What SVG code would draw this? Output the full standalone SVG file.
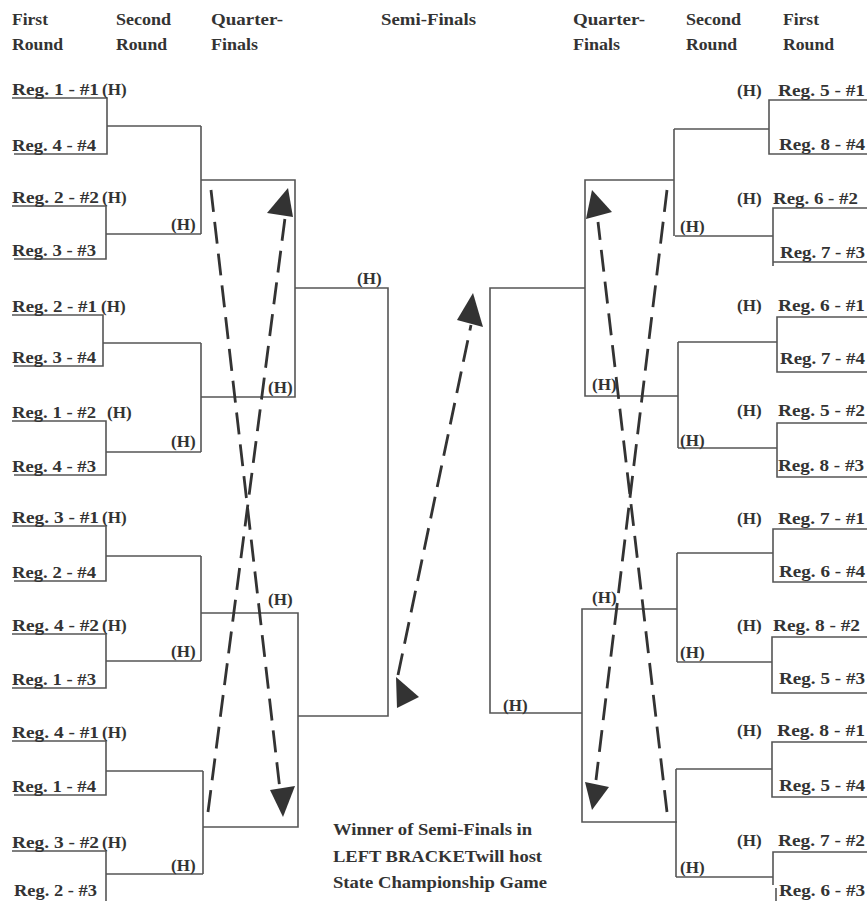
<svg xmlns="http://www.w3.org/2000/svg" width="867" height="901" viewBox="0 0 867 901">
<style>
.ln{fill:none;stroke:#555;stroke-width:1.6}
.ds{fill:none;stroke:#333;stroke-width:2.8;stroke-dasharray:22 10}
.ah{fill:#333}
text{font-family:"Liberation Serif","Times New Roman",serif;font-weight:bold;fill:#333}
.hd{font-size:17px}
.lb{font-size:17px}
.nt{font-size:17px}
</style>
<rect width="867" height="901" fill="#fff"/>
<g id="connectors">
<path class="ln" d="M12 98H107V154H14M107 126H201M12 206H106V259H14M106 234H201M201 126V234M201 180H295V397H201M12 315H103V366H14M103 343H201M12 421H106V475H14M106 452H201M201 343V452M295 288H388V716H298M12 526H106V581H14M106 556H201M12 634H106V688H12M106 661H201M201 556V661M201 613H298V827H203M12 741H106V795H14M106 771H203M12 851H106V901M106 874H203M203 771V874"/>
<path class="ln" d="M867 100H769V154H867M769 129H674M867 208H773V266M773 262H867M773 236H675M674 129V236M674 180H585V396H678M867 317H777V372H867M777 342H678M867 423H777V477H867M777 448H678M678 342V448M585 288H490V713H582M867 529H773V582H867M773 553H677M867 637H772V693H867M772 662H677M677 553V662M677 609H582V822H677M867 742H772V797H867M772 769H676M867 852H773V885M676 877H773M676 769V877M776 888V901"/>
<path class="ds" d="M211 190L280 790"/>
<path class="ds" d="M208 812L285 218"/>
<polygon class="ah" points="288,188 267,213 293,217"/>
<polygon class="ah" points="283,817 270,790 295,786"/>
<path class="ds" d="M667 190L596 780"/>
<path class="ds" d="M667 812L598 222"/>
<polygon class="ah" points="592,190 586,219 612,212"/>
<polygon class="ah" points="592,810 585,782 609,787"/>
<path class="ds" d="M398 675L471 325"/>
<polygon class="ah" points="473,293 457,320 483,327"/>
<polygon class="ah" points="396,677 419,697 397,708"/>
</g>
<g id="headers">
<text class="hd" x="12" y="25" textLength="36" lengthAdjust="spacingAndGlyphs">First</text>
<text class="hd" x="12" y="50" textLength="51" lengthAdjust="spacingAndGlyphs">Round</text>
<text class="hd" x="116" y="25" textLength="55" lengthAdjust="spacingAndGlyphs">Second</text>
<text class="hd" x="116" y="50" textLength="51" lengthAdjust="spacingAndGlyphs">Round</text>
<text class="hd" x="211" y="25" textLength="72" lengthAdjust="spacingAndGlyphs">Quarter-</text>
<text class="hd" x="211" y="50" textLength="47" lengthAdjust="spacingAndGlyphs">Finals</text>
<text class="hd" x="381" y="25" textLength="95" lengthAdjust="spacingAndGlyphs">Semi-Finals</text>
<text class="hd" x="573" y="25" textLength="72" lengthAdjust="spacingAndGlyphs">Quarter-</text>
<text class="hd" x="573" y="50" textLength="47" lengthAdjust="spacingAndGlyphs">Finals</text>
<text class="hd" x="686" y="25" textLength="55" lengthAdjust="spacingAndGlyphs">Second</text>
<text class="hd" x="686" y="50" textLength="51" lengthAdjust="spacingAndGlyphs">Round</text>
<text class="hd" x="783" y="25" textLength="36" lengthAdjust="spacingAndGlyphs">First</text>
<text class="hd" x="783" y="50" textLength="51" lengthAdjust="spacingAndGlyphs">Round</text>
</g>
<g id="left-first-round">
<g id="L1"><text class="lb" y="95"><tspan x="12" textLength="87" lengthAdjust="spacingAndGlyphs">Reg. 1 - #1</tspan><tspan x="102">(H)</tspan></text></g>
<g id="L2"><text class="lb" x="12" y="151" textLength="84" lengthAdjust="spacingAndGlyphs">Reg. 4 - #4</text></g>
<g id="L3"><text class="lb" y="203"><tspan x="12" textLength="87" lengthAdjust="spacingAndGlyphs">Reg. 2 - #2</tspan><tspan x="102">(H)</tspan></text></g>
<g id="L4"><text class="lb" x="12" y="256" textLength="84" lengthAdjust="spacingAndGlyphs">Reg. 3 - #3</text></g>
<g id="L5"><text class="lb" y="312"><tspan x="12" textLength="85" lengthAdjust="spacingAndGlyphs">Reg. 2 - #1</tspan><tspan x="101">(H)</tspan></text></g>
<g id="L6"><text class="lb" x="12" y="363" textLength="84" lengthAdjust="spacingAndGlyphs">Reg. 3 - #4</text></g>
<g id="L7"><text class="lb" y="418"><tspan x="12" textLength="84" lengthAdjust="spacingAndGlyphs">Reg. 1 - #2</tspan><tspan x="107">(H)</tspan></text></g>
<g id="L8"><text class="lb" x="12" y="472" textLength="84" lengthAdjust="spacingAndGlyphs">Reg. 4 - #3</text></g>
<g id="L9"><text class="lb" y="523"><tspan x="12" textLength="87" lengthAdjust="spacingAndGlyphs">Reg. 3 - #1</tspan><tspan x="102">(H)</tspan></text></g>
<g id="L10"><text class="lb" x="12" y="578" textLength="84" lengthAdjust="spacingAndGlyphs">Reg. 2 - #4</text></g>
<g id="L11"><text class="lb" y="631"><tspan x="12" textLength="87" lengthAdjust="spacingAndGlyphs">Reg. 4 - #2</tspan><tspan x="102">(H)</tspan></text></g>
<g id="L12"><text class="lb" x="12" y="685" textLength="84" lengthAdjust="spacingAndGlyphs">Reg. 1 - #3</text></g>
<g id="L13"><text class="lb" y="738"><tspan x="12" textLength="87" lengthAdjust="spacingAndGlyphs">Reg. 4 - #1</tspan><tspan x="102">(H)</tspan></text></g>
<g id="L14"><text class="lb" x="12" y="792" textLength="84" lengthAdjust="spacingAndGlyphs">Reg. 1 - #4</text></g>
<g id="L15"><text class="lb" y="848"><tspan x="12" textLength="87" lengthAdjust="spacingAndGlyphs">Reg. 3 - #2</tspan><tspan x="102">(H)</tspan></text></g>
<g id="L16"><text class="lb" x="14" y="896" textLength="83" lengthAdjust="spacingAndGlyphs">Reg. 2 - #3</text></g>
</g>
<g id="left-later-rounds">
<g id="LS1"><text class="lb" x="171" y="230">(H)</text></g>
<g id="LS2"><text class="lb" x="171" y="447">(H)</text></g>
<g id="LS3"><text class="lb" x="171" y="657">(H)</text></g>
<g id="LS4"><text class="lb" x="171" y="871">(H)</text></g>
<g id="LQ1"><text class="lb" x="268" y="393">(H)</text></g>
<g id="LQ2"><text class="lb" x="268" y="605">(H)</text></g>
<g id="LSF"><text class="lb" x="357" y="284">(H)</text></g>
</g>
<g id="right-first-round">
<g id="R1"><text class="lb" y="96"><tspan x="737">(H)</tspan><tspan x="778" textLength="87" lengthAdjust="spacingAndGlyphs">Reg. 5 - #1</tspan></text></g>
<g id="R2"><text class="lb" x="779" y="150" textLength="86" lengthAdjust="spacingAndGlyphs">Reg. 8 - #4</text></g>
<g id="R3"><text class="lb" y="204"><tspan x="737">(H)</tspan><tspan x="773" textLength="85" lengthAdjust="spacingAndGlyphs">Reg. 6 - #2</tspan></text></g>
<g id="R4"><text class="lb" x="780" y="258" textLength="85" lengthAdjust="spacingAndGlyphs">Reg. 7 - #3</text></g>
<g id="R5"><text class="lb" y="311"><tspan x="737">(H)</tspan><tspan x="778" textLength="87" lengthAdjust="spacingAndGlyphs">Reg. 6 - #1</tspan></text></g>
<g id="R6"><text class="lb" x="780" y="364" textLength="85" lengthAdjust="spacingAndGlyphs">Reg. 7 - #4</text></g>
<g id="R7"><text class="lb" y="416"><tspan x="737">(H)</tspan><tspan x="778" textLength="87" lengthAdjust="spacingAndGlyphs">Reg. 5 - #2</tspan></text></g>
<g id="R8"><text class="lb" x="778" y="471" textLength="86" lengthAdjust="spacingAndGlyphs">Reg. 8 - #3</text></g>
<g id="R9"><text class="lb" y="524"><tspan x="737">(H)</tspan><tspan x="778" textLength="87" lengthAdjust="spacingAndGlyphs">Reg. 7 - #1</tspan></text></g>
<g id="R10"><text class="lb" x="779" y="577" textLength="86" lengthAdjust="spacingAndGlyphs">Reg. 6 - #4</text></g>
<g id="R11"><text class="lb" y="631"><tspan x="737">(H)</tspan><tspan x="773" textLength="87" lengthAdjust="spacingAndGlyphs">Reg. 8 - #2</tspan></text></g>
<g id="R12"><text class="lb" x="779" y="684" textLength="86" lengthAdjust="spacingAndGlyphs">Reg. 5 - #3</text></g>
<g id="R13"><text class="lb" y="736"><tspan x="737">(H)</tspan><tspan x="777" textLength="88" lengthAdjust="spacingAndGlyphs">Reg. 8 - #1</tspan></text></g>
<g id="R14"><text class="lb" x="779" y="791" textLength="86" lengthAdjust="spacingAndGlyphs">Reg. 5 - #4</text></g>
<g id="R15"><text class="lb" y="846"><tspan x="737">(H)</tspan><tspan x="778" textLength="87" lengthAdjust="spacingAndGlyphs">Reg. 7 - #2</tspan></text></g>
<g id="R16"><text class="lb" x="779" y="896" textLength="86" lengthAdjust="spacingAndGlyphs">Reg. 6 - #3</text></g>
</g>
<g id="right-later-rounds">
<g id="RS1"><text class="lb" x="680" y="232">(H)</text></g>
<g id="RS2"><text class="lb" x="680" y="446">(H)</text></g>
<g id="RS3"><text class="lb" x="680" y="658">(H)</text></g>
<g id="RS4"><text class="lb" x="680" y="873">(H)</text></g>
<g id="RQ1"><text class="lb" x="592" y="390">(H)</text></g>
<g id="RQ2"><text class="lb" x="592" y="603">(H)</text></g>
<g id="RSF"><text class="lb" x="503" y="711">(H)</text></g>
</g>
<g id="note">
<text class="nt" x="333" y="835" textLength="199" lengthAdjust="spacingAndGlyphs">Winner of Semi-Finals in</text>
<text class="nt" x="333" y="862" textLength="209" lengthAdjust="spacingAndGlyphs">LEFT BRACKETwill host</text>
<text class="nt" x="333" y="888" textLength="214" lengthAdjust="spacingAndGlyphs">State Championship Game</text>
</g>
</svg>
